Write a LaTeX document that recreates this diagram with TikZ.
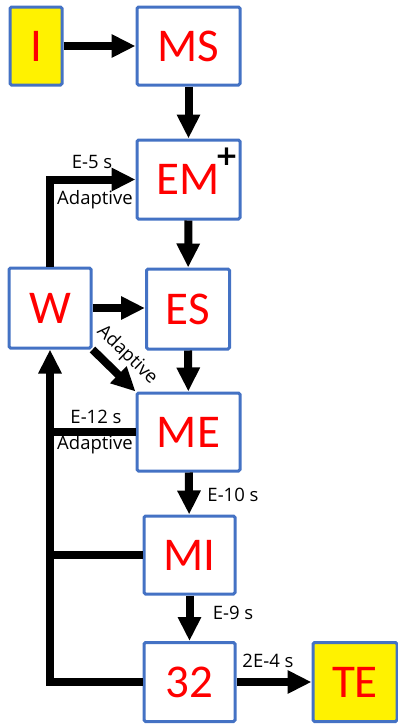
\documentclass[tikz,border=0pt]{standalone}
\usepackage{fontspec}
\setmainfont{Carlito}
\newfontfamily\lblfont{Open Sans}
\newfontfamily\plusfont{DejaVu Sans}
\usetikzlibrary{arrows.meta}
\definecolor{boxblue}{HTML}{4472C4}
\begin{document}
\begin{tikzpicture}[x=1pt,y=-1pt,
  box/.style={draw=boxblue, line width=3pt, fill=white, rounded corners=1.5pt,
    inner sep=0pt, text=red, font=\fontsize{47}{47}\selectfont},
  ybox/.style={box, fill=yellow},
  arr/.style={line width=8pt, -{Triangle[width=22pt,length=24pt]}},
  ln/.style={line width=8pt},
  lbl/.style={font=\lblfont\fontsize{18.5}{19}\selectfont, inner sep=0pt, text=black}]
\useasboundingbox (0,0) rectangle (398,724);
\node[ybox, minimum width=52pt, minimum height=78pt] (I) at (36,46) {I};
\node[box, minimum width=103pt, minimum height=78pt] (MS) at (188.5,46) {MS};
\node[box, minimum width=103pt, minimum height=79pt] (EM) at (188.5,179.5) {EM};
\node[font=\plusfont\bfseries\fontsize{28}{28}\selectfont, inner sep=0pt] (plus) at (226.5,157) {+};
\node[box, minimum width=82pt, minimum height=80pt] (W) at (50,308) {W};
\node[box, minimum width=83pt, minimum height=80pt] (ES) at (188,309) {ES};
\node[box, minimum width=103pt, minimum height=78pt] (ME) at (188.5,432) {ME};
\node[box, minimum width=91pt, minimum height=78pt] (MI) at (189.5,555) {MI};
\node[box, minimum width=91pt, minimum height=79pt] (T32) at (189.5,682) {32};
\node[ybox, minimum width=84pt, minimum height=79pt] (TE) at (355,682) {TE};

\draw[arr] (I) -- (MS);
\draw[arr] (MS) -- (EM);
\draw[arr] (W.north) |- (EM.west);
\draw[arr] (EM) -- (ES);
\draw[arr] (W.east) -- (ES.west |- W.east);
\draw[arr] (W.south east) -- (ME.north west);
\draw[arr] (ES) -- (ME);
\draw[ln] (ME.west) -- (ME.west -| W.south);
\draw[ln] (MI.west) -- (MI.west -| W.south);
\draw[arr] (T32.west) -| (W.south);
\draw[arr] (ME) -- (MI);
\draw[arr] (MI) -- (T32);
\draw[arr] (T32) -- (TE);

\node[lbl] (l1) at (92,162) {E-5 s};
\node[lbl] (l2) at (95,200) {Adaptive};
\node[lbl, rotate=-44] (l3) at (127,355) {Adaptive};
\node[lbl] (l4) at (96,417) {E-12 s};
\node[lbl] (l5) at (95,445) {Adaptive};
\node[lbl] (l6) at (233,495) {E-10 s};
\node[lbl] (l7) at (233,613) {E-9 s};
\node[lbl] (l8) at (268,661) {2E-4 s};
\end{tikzpicture}
\end{document}
